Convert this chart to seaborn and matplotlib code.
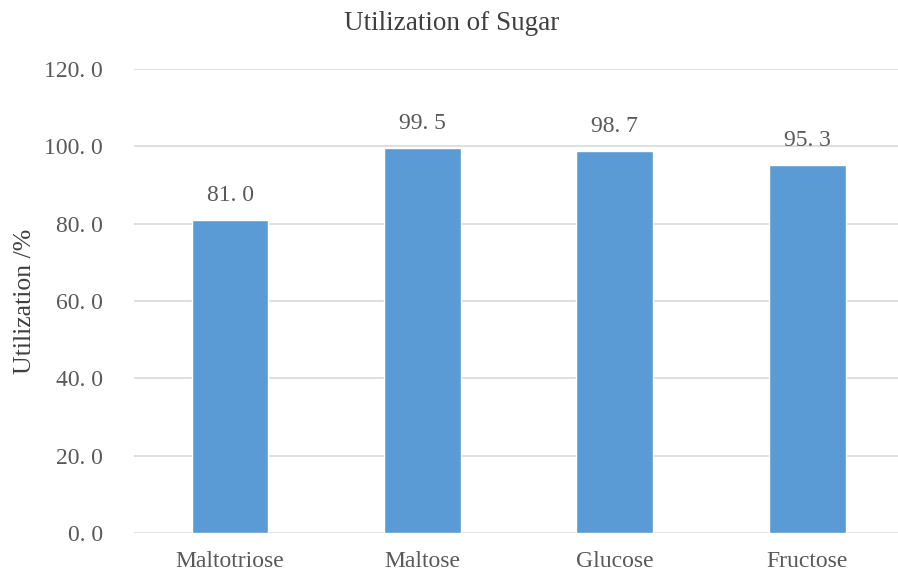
import matplotlib
matplotlib.use('Agg')
import matplotlib.pyplot as plt
import pandas as pd
import seaborn as sns

sugars = ['Maltotriose', 'Maltose', 'Glucose', 'Fructose']
utilization = [81.0, 99.5, 98.7, 95.3]
y_ticks = [0, 20, 40, 60, 80, 100, 120]


def fmt(v):
    # excel-style labels with a gap after the dot
    return '{:.1f}'.format(v).replace('.', '. ')


def plot_utilization():
    sns.set_theme(style='white')
    plt.rcParams['font.family'] = ['Liberation Serif', 'DejaVu Serif']
    text_color = '#595959'

    df = pd.DataFrame({'sugar': sugars, 'utilization': utilization})
    fig = plt.figure(figsize=(8.98, 5.75), dpi=100)
    ax = fig.add_axes([0.149, 0.073, 0.857, 0.807])

    sns.barplot(data=df, x='sugar', y='utilization', color='#5B9BD5',
                saturation=1, width=0.4, ax=ax, zorder=3)

    ax.set_ylim(0, 120)
    ax.set_yticks(y_ticks)
    ax.set_yticklabels([fmt(t) for t in y_ticks])
    ax.yaxis.grid(True, color='#D9D9D9', linewidth=1.2, zorder=0)
    ax.set_axisbelow(True)
    for side in ['top', 'right', 'left', 'bottom']:
        ax.spines[side].set_visible(False)
    ax.tick_params(axis='both', length=0, labelsize=17, colors=text_color)
    ax.tick_params(axis='x', pad=13)
    ax.tick_params(axis='y', pad=22)

    ax.bar_label(ax.containers[0], labels=[fmt(v) for v in utilization],
                 padding=10, fontsize=17, color=text_color)

    ax.set_xlabel('')
    ax.set_ylabel('Utilization /%', fontsize=18.5, color='#404040', labelpad=6)
    fig.text(0.503, 0.960, 'Utilization of Sugar', ha='center', va='center',
             fontsize=19.5, color='#404040')

    fig.savefig('out.png', dpi=100)


if __name__ == '__main__':
    plot_utilization()
